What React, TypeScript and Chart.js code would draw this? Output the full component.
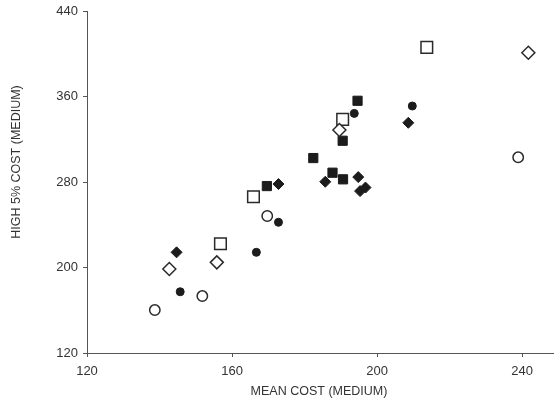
import React, { useEffect, useRef } from "react";
import { Chart, registerables } from "chart.js";

Chart.register(...registerables);

const xTicks = [120, 160, 200, 240];
const yTicks = [120, 200, 280, 360, 440];

const openCircles = [
  { x: 138.7, y: 160.2 },
  { x: 151.8, y: 173.3 },
  { x: 169.7, y: 248.2 },
  { x: 238.9, y: 303.1 },
];
const filledCircles = [
  { x: 145.7, y: 177.3 },
  { x: 166.7, y: 214.2 },
  { x: 172.8, y: 242.3 },
  { x: 193.7, y: 344.2 },
  { x: 209.7, y: 351.1 },
];
const openDiamonds = [
  { x: 142.7, y: 198.6 },
  { x: 155.8, y: 204.8 },
  { x: 189.6, y: 328.6 },
  { x: 241.7, y: 400.9 },
];
const filledDiamonds = [
  { x: 144.7, y: 214.2 },
  { x: 172.8, y: 278.1 },
  { x: 185.7, y: 280.2 },
  { x: 194.8, y: 284.6 },
  { x: 195.3, y: 271.5 },
  { x: 196.8, y: 274.8 },
  { x: 208.6, y: 335.4 },
];
const openSquares = [
  { x: 156.8, y: 222.2 },
  { x: 165.9, y: 266.2 },
  { x: 190.5, y: 338.6 },
  { x: 213.7, y: 406.0 },
];
const filledSquares = [
  { x: 169.6, y: 276.2 },
  { x: 182.4, y: 302.4 },
  { x: 187.7, y: 288.7 },
  { x: 190.6, y: 282.5 },
  { x: 190.5, y: 318.6 },
  { x: 194.6, y: 356.0 },
];

const xTitle = "MEAN COST (MEDIUM)";
const yTitle = "HIGH 5% COST (MEDIUM)";

const INK = "#1c1c1c";
const AXIS = "#555555";
const TEXT = "#333333";
const FONT = "'Liberation Sans', Arial, Helvetica, sans-serif";

export default function App() {
  const ref = useRef<HTMLCanvasElement | null>(null);

  useEffect(() => {
    if (!ref.current) return;
    const titlePlugin = {
      id: "axisTitles",
      afterDraw(chart: any) {
        const ctx = chart.ctx;
        const area = chart.chartArea;
        ctx.save();
        ctx.fillStyle = TEXT;
        ctx.font = `12.5px ${FONT}`;
        ctx.textAlign = "center";
        ctx.textBaseline = "middle";
        ctx.fillText(xTitle, (area.left + area.right) / 2 - 1, 392);
        ctx.translate(17, 162);
        ctx.rotate(-Math.PI / 2);
        ctx.fillText(yTitle, 0, 0);
        ctx.restore();
      },
    };

    const open = (data: any[], style: string, r: number) => ({
      data,
      pointStyle: style,
      pointRadius: r,
      pointBackgroundColor: "#ffffff",
      pointBorderColor: "#2a2a2a",
      pointBorderWidth: 1.5,
      showLine: false,
    });
    const filled = (data: any[], style: string, r: number) => ({
      data,
      pointStyle: style,
      pointRadius: r,
      pointBackgroundColor: INK,
      pointBorderColor: INK,
      pointBorderWidth: 1,
      showLine: false,
    });

    const chart = new Chart(ref.current, {
      type: "scatter",
      data: {
        datasets: [
          open(openCircles, "circle", 5.2),
          filled(filledCircles, "circle", 4),
          open(openDiamonds, "rectRot", 6.5),
          filled(filledDiamonds, "rectRot", 5.5),
          open(openSquares, "rect", 8.2),
          filled(filledSquares, "rect", 6.5),
        ] as any,
      },
      options: {
        animation: false,
        responsive: false,
        layout: { autoPadding: false, padding: { top: 11, right: 1, left: 0, bottom: 0 } },
        plugins: { legend: { display: false }, tooltip: { enabled: false } },
        scales: {
          x: {
            type: "linear",
            min: 120,
            max: 248.5,
            afterBuildTicks: (s: any) => {
              s.ticks = xTicks.map((v) => ({ value: v }));
            },
            afterFit: (s: any) => {
              s.height = 54;
              s.paddingLeft = 0;
              s.paddingRight = 0;
            },
            grid: { drawOnChartArea: false, drawTicks: true, tickLength: 4, color: AXIS },
            border: { display: true, color: AXIS, width: 1 },
            ticks: { color: TEXT, font: { family: FONT, size: 13 }, padding: 7, maxRotation: 0 },
          },
          y: {
            type: "linear",
            min: 120,
            max: 440,
            afterBuildTicks: (s: any) => {
              s.ticks = yTicks.map((v) => ({ value: v }));
            },
            afterFit: (s: any) => {
              s.width = 87;
              s.paddingTop = 0;
              s.paddingBottom = 0;
            },
            grid: { drawOnChartArea: false, drawTicks: true, tickLength: 4, color: AXIS },
            border: { display: true, color: AXIS, width: 1 },
            ticks: { color: TEXT, font: { family: FONT, size: 13 }, padding: 5 },
          },
        },
      },
      plugins: [titlePlugin],
    });
    return () => chart.destroy();
  }, []);

  return (
    <div style={{ position: "fixed", left: 0, top: 0, width: 554, height: 407, background: "#ffffff" }}>
      <canvas ref={ref} width={554} height={407} />
    </div>
  );
}
